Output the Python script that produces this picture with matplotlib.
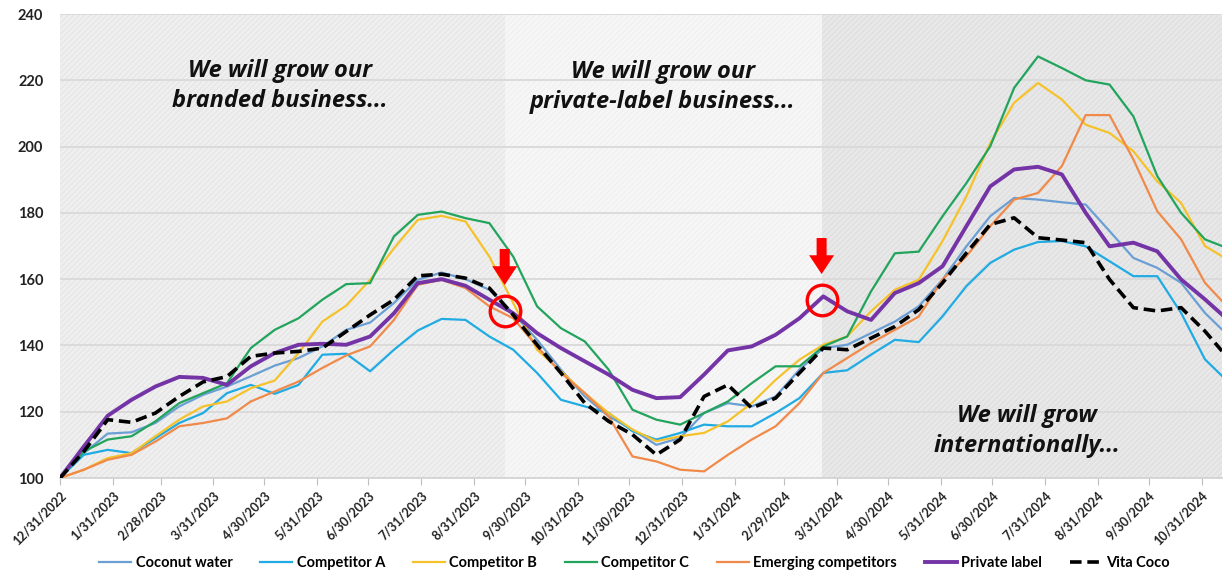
import matplotlib
matplotlib.use("Agg")
import matplotlib.pyplot as plt
import matplotlib.dates as mdates
import pandas as pd

plt.rcParams['font.family'] = ['Lato', 'DejaVu Sans']
plt.rcParams['hatch.linewidth'] = 0.6

# ---------------- data ----------------
dates = list(pd.date_range('2022-12-31', periods=49, freq='14D')) + [pd.Timestamp('2024-11-12')]

coconut_water = [100, 107.5, 113.4, 113.8, 116.6, 121.6, 125.1, 127.6, 130.7, 133.9, 136.2, 139.7, 144.7,
                 146.9, 152.8, 159.8, 162, 160, 156.8, 149.7, 141.7, 132.7, 124.6, 118.6, 114.6, 110, 112.1,
                 119.6, 122.6, 121.6, 124.6, 132.7, 139.2, 140.2, 143.7, 147.2, 151.8, 159.9, 169.9, 179,
                 184.5, 184, 183.2, 182.5, 174.5, 166.4, 163.4, 158.9, 149.8, 144.8]
competitor_a = [100, 107, 108.5, 107.5, 112, 116.6, 119.6, 125.6, 128.1, 125.4, 128.1, 137.2, 137.5, 132.2,
                138.7, 144.5, 148, 147.7, 142.7, 138.7, 131.7, 123.6, 121.6, 119.6, 114.1, 111.6, 113.6,
                116.1, 115.6, 115.6, 119.6, 124.1, 131.7, 132.5, 137.2, 141.7, 141, 148.8, 157.9, 164.9,
                168.9, 171.2, 171.5, 169.9, 165.4, 160.9, 160.9, 149.8, 135.8, 130.8]
competitor_b = [100, 102.5, 106, 107.5, 112.6, 117.6, 121.6, 123.1, 127.1, 129.4, 137.7, 147.2, 152, 159.8,
                169.3, 177.9, 179.1, 177.4, 166.8, 152.8, 138.7, 132.2, 125.6, 119.6, 114.6, 111.1, 112.6,
                113.6, 117.1, 122.6, 129.6, 135.7, 140.2, 142.7, 150.3, 156.8, 159.8, 171.5, 185, 201.1,
                213.2, 219.2, 214.2, 206.6, 204.1, 198.6, 189.5, 183, 170, 166.9]
competitor_c = [100, 108, 111.6, 112.6, 117.1, 122.6, 125.6, 128.6, 139.2, 144.7, 148.2, 153.8, 158.5, 158.8,
                172.9, 179.4, 180.4, 178.4, 176.9, 166.8, 151.8, 145.2, 141.2, 132.7, 120.6, 117.6, 116.1,
                119.6, 123.1, 128.6, 133.7, 133.7, 139.7, 142.7, 156.3, 167.8, 168.3, 179, 189, 200.1,
                217.7, 227.2, 223.7, 220, 218.7, 209.1, 191.1, 180, 172, 170]
emerging = [100, 102.5, 105.5, 107, 111, 115.6, 116.6, 118, 123.1, 126.1, 129.1, 133.2, 137, 139.7,
            147.7, 158.3, 159.8, 157.3, 151.8, 148.2, 139.7, 131.7, 125.6, 118.6, 106.5, 105, 102.5,
            102, 107, 111.6, 115.6, 122.6, 131.7, 136.2, 140.7, 144.7, 148.7, 159.9, 166.9, 176,
            184, 186, 194.1, 209.5, 209.5, 196.1, 180.5, 172, 158.9, 153.4]
private_label = [100, 109.5, 118.8, 123.6, 127.6, 130.5, 130.2, 128.1, 133.7, 137.7, 140.2, 140.5, 140.2,
                 142.7, 149.7, 158.8, 160, 158, 153.8, 149.7, 143.7, 139.2, 135.2, 131.2, 126.6, 124.1,
                 124.4, 131.2, 138.5, 139.7, 143.2, 148.2, 154.8, 150.3, 147.7, 155.8, 158.8, 163.9, 176,
                 188, 193.1, 193.9, 191.6, 180, 169.9, 171, 168.4, 159.9, 153.9, 149.3]
vita_coco = [100, 108, 117.6, 116.8, 119.6, 124.6, 129, 130.6, 136.7, 137.7, 138.2, 139.2, 144.2, 149.2,
             153.8, 161, 161.5, 160.3, 157.3, 149.2, 140.2, 131.7, 122.6, 117.1, 113.1, 107, 111.6, 124.6,
             128.1, 121.1, 124.1, 131.7, 139.2, 138.7, 142.2, 145.7, 150.8, 158.9, 167.9, 176.5, 178.5,
             172.5, 171.8, 171, 159.9, 151.4, 150.4, 151.4, 144.3, 138.3]

series_names = ['Coconut water', 'Competitor A', 'Competitor B', 'Competitor C',
                'Emerging competitors', 'Private label', 'Vita Coco']

tick_labels = ['12/31/2022', '1/31/2023', '2/28/2023', '3/31/2023', '4/30/2023', '5/31/2023',
               '6/30/2023', '7/31/2023', '8/31/2023', '9/30/2023', '10/31/2023', '11/30/2023',
               '12/31/2023', '1/31/2024', '2/29/2024', '3/31/2024', '4/30/2024', '5/31/2024',
               '6/30/2024', '7/31/2024', '8/31/2024', '9/30/2024', '10/31/2024']

phase_bounds = ['2022-12-31', '2023-09-18', '2024-03-22', '2024-11-12']
phase_texts = ['We will grow our\nbranded business...',
               'We will grow our\nprivate-label business...',
               'We will grow\ninternationally...']
marker_dates = ['2023-09-18', '2024-03-22']
marker_values = [150.4, 153.7]

# ---------------- figure ----------------
fig = plt.figure(figsize=(12.25, 5.74), dpi=100)
ax = fig.add_axes([60 / 1225, 1 - 478 / 574, (1222 - 60) / 1225, (478 - 14) / 574])

pb = [pd.Timestamp(d) for d in phase_bounds]
ax.axvspan(pb[0], pb[1], facecolor='#efefef', edgecolor='#e2e2e2', hatch='//////', lw=0, zorder=0)
ax.axvspan(pb[1], pb[2], facecolor='#f6f6f6', edgecolor='#eeeeee', hatch='//////', lw=0, zorder=0)
ax.axvspan(pb[2], pb[3], facecolor='#e8e8e8', edgecolor='#dbdbdb', hatch='//////', lw=0, zorder=0)

for yv in range(120, 241, 20):
    ax.axhline(yv, color='#d9d9d9', lw=1.3, zorder=1)

styles = [
    (coconut_water, dict(color='#6b9fd4', lw=1.6)),
    (competitor_a, dict(color='#20abe3', lw=1.6)),
    (competitor_b, dict(color='#f5c22c', lw=1.6)),
    (competitor_c, dict(color='#22a45c', lw=1.6)),
    (emerging, dict(color='#ef8a4a', lw=1.6)),
    (private_label, dict(color='#7434a6', lw=2.8)),
    (vita_coco, dict(color='black', lw=2.6, ls=(0, (3.2, 1.6)))),
]
for (vals, st), name in zip(styles, series_names):
    ax.plot(dates, vals, label=name, zorder=3, solid_joinstyle='round', **st)

ax.set_ylim(100, 240)
ax.set_xlim(pb[0], pb[3])
ax.set_yticks(range(100, 241, 20))
ax.tick_params(axis='y', length=0, pad=12, labelsize=10.5, labelcolor='#222222')
for lab in ax.get_yticklabels():
    lab.set_fontweight('bold')

tick_dates = pd.to_datetime(tick_labels, format='%m/%d/%Y')
ax.set_xticks(tick_dates)
ax.set_xticklabels(tick_labels, rotation=45, ha='right', rotation_mode='anchor',
                   fontsize=9, fontweight='bold', color='#222222')
ax.tick_params(axis='x', length=5, color='#bfbfbf', pad=3)

for s in ['top', 'right', 'left']:
    ax.spines[s].set_visible(False)
ax.spines['bottom'].set_color('#d0d0d0')
ax.spines['bottom'].set_linewidth(1.2)

# phase annotations
text_pos = [(280, 86), (663, 87), (1027, 431)]
for (px, py), t in zip(text_pos, phase_texts):
    fig.text(px / 1225, 1 - py / 574, t, ha='center', va='center', fontsize=17,
             family=['Open Sans', 'DejaVu Sans'],
             fontweight='bold', fontstyle='italic', color='#111111', linespacing=1.35)

# red markers
for d, v in zip(marker_dates, marker_values):
    dd = pd.Timestamp(d)
    ax.plot([dd], [v], marker='o', ms=22, mfc='none', mec='#ff0000', mew=2.4, zorder=5)
fig.canvas.draw()
for d, v in zip(marker_dates, marker_values):
    dd = pd.Timestamp(d)
    tip = ax.transData.transform((mdates.date2num(dd), v))
    ax.annotate('', xy=(tip[0], tip[1] + 26), xycoords='figure pixels',
                xytext=(tip[0], tip[1] + 62), textcoords='figure pixels',
                arrowprops=dict(arrowstyle='simple,head_length=1.5,head_width=2.0,tail_width=0.8',
                                mutation_scale=9, color='#ff0000', lw=0,
                                shrinkA=0, shrinkB=0))

leg = fig.legend(loc='center', bbox_to_anchor=(0.518, 0.019), ncol=7, frameon=False,
                 handlelength=2.2, handletextpad=0.3, columnspacing=1.9,
                 prop={'weight': 'bold', 'size': 10.5})

fig.savefig('out.png', dpi=100, facecolor='white')
